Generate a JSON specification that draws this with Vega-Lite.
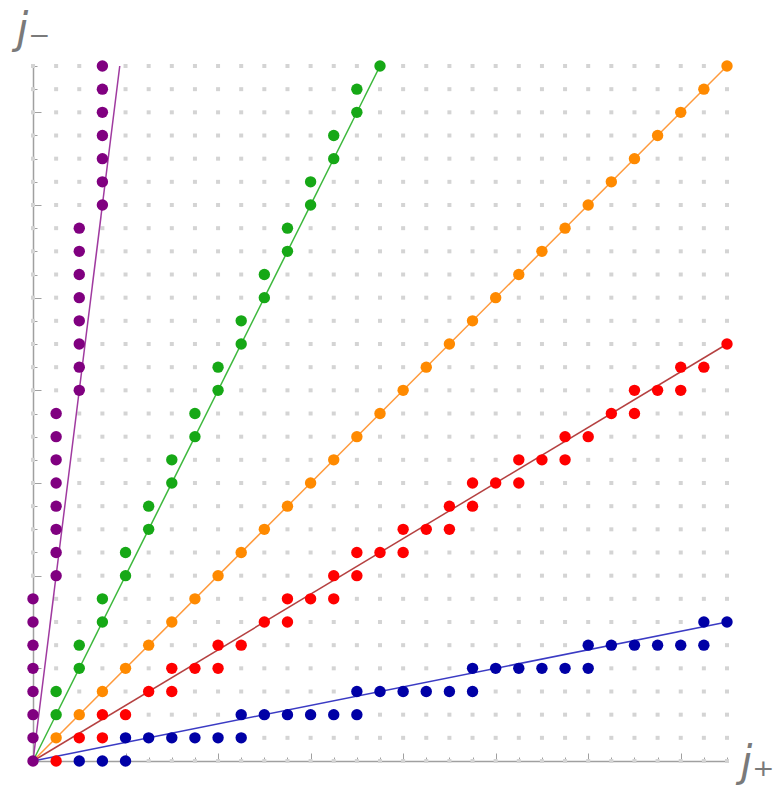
{
  "$schema": "https://vega.github.io/schema/vega-lite/v6.json",
  "width": 694,
  "height": 695,
  "autosize": {"type": "none"},
  "padding": {"left": 33, "top": 66, "right": 51, "bottom": 26},
  "background": "white",
  "config": {"view": {"stroke": null}},
  "datasets": {
    "grid": [
      {"x":0,"ys":[0,1,2,3,4,5,6,7,8,9,10,11,12,13,14,15,16,17,18,19,20,21,22,23,24,25,26,27,28,29,30]},
      {"x":1,"ys":[0,1,2,3,4,5,6,7,8,9,10,11,12,13,14,15,16,17,18,19,20,21,22,23,24,25,26,27,28,29,30]},
      {"x":2,"ys":[0,1,2,3,4,5,6,7,8,9,10,11,12,13,14,15,16,17,18,19,20,21,22,23,24,25,26,27,28,29,30]},
      {"x":3,"ys":[0,1,2,3,4,5,6,7,8,9,10,11,12,13,14,15,16,17,18,19,20,21,22,23,24,25,26,27,28,29,30]},
      {"x":4,"ys":[0,1,2,3,4,5,6,7,8,9,10,11,12,13,14,15,16,17,18,19,20,21,22,23,24,25,26,27,28,29,30]},
      {"x":5,"ys":[0,1,2,3,4,5,6,7,8,9,10,11,12,13,14,15,16,17,18,19,20,21,22,23,24,25,26,27,28,29,30]},
      {"x":6,"ys":[0,1,2,3,4,5,6,7,8,9,10,11,12,13,14,15,16,17,18,19,20,21,22,23,24,25,26,27,28,29,30]},
      {"x":7,"ys":[0,1,2,3,4,5,6,7,8,9,10,11,12,13,14,15,16,17,18,19,20,21,22,23,24,25,26,27,28,29,30]},
      {"x":8,"ys":[0,1,2,3,4,5,6,7,8,9,10,11,12,13,14,15,16,17,18,19,20,21,22,23,24,25,26,27,28,29,30]},
      {"x":9,"ys":[0,1,2,3,4,5,6,7,8,9,10,11,12,13,14,15,16,17,18,19,20,21,22,23,24,25,26,27,28,29,30]},
      {"x":10,"ys":[0,1,2,3,4,5,6,7,8,9,10,11,12,13,14,15,16,17,18,19,20,21,22,23,24,25,26,27,28,29,30]},
      {"x":11,"ys":[0,1,2,3,4,5,6,7,8,9,10,11,12,13,14,15,16,17,18,19,20,21,22,23,24,25,26,27,28,29,30]},
      {"x":12,"ys":[0,1,2,3,4,5,6,7,8,9,10,11,12,13,14,15,16,17,18,19,20,21,22,23,24,25,26,27,28,29,30]},
      {"x":13,"ys":[0,1,2,3,4,5,6,7,8,9,10,11,12,13,14,15,16,17,18,19,20,21,22,23,24,25,26,27,28,29,30]},
      {"x":14,"ys":[0,1,2,3,4,5,6,7,8,9,10,11,12,13,14,15,16,17,18,19,20,21,22,23,24,25,26,27,28,29,30]},
      {"x":15,"ys":[0,1,2,3,4,5,6,7,8,9,10,11,12,13,14,15,16,17,18,19,20,21,22,23,24,25,26,27,28,29,30]},
      {"x":16,"ys":[0,1,2,3,4,5,6,7,8,9,10,11,12,13,14,15,16,17,18,19,20,21,22,23,24,25,26,27,28,29,30]},
      {"x":17,"ys":[0,1,2,3,4,5,6,7,8,9,10,11,12,13,14,15,16,17,18,19,20,21,22,23,24,25,26,27,28,29,30]},
      {"x":18,"ys":[0,1,2,3,4,5,6,7,8,9,10,11,12,13,14,15,16,17,18,19,20,21,22,23,24,25,26,27,28,29,30]},
      {"x":19,"ys":[0,1,2,3,4,5,6,7,8,9,10,11,12,13,14,15,16,17,18,19,20,21,22,23,24,25,26,27,28,29,30]},
      {"x":20,"ys":[0,1,2,3,4,5,6,7,8,9,10,11,12,13,14,15,16,17,18,19,20,21,22,23,24,25,26,27,28,29,30]},
      {"x":21,"ys":[0,1,2,3,4,5,6,7,8,9,10,11,12,13,14,15,16,17,18,19,20,21,22,23,24,25,26,27,28,29,30]},
      {"x":22,"ys":[0,1,2,3,4,5,6,7,8,9,10,11,12,13,14,15,16,17,18,19,20,21,22,23,24,25,26,27,28,29,30]},
      {"x":23,"ys":[0,1,2,3,4,5,6,7,8,9,10,11,12,13,14,15,16,17,18,19,20,21,22,23,24,25,26,27,28,29,30]},
      {"x":24,"ys":[0,1,2,3,4,5,6,7,8,9,10,11,12,13,14,15,16,17,18,19,20,21,22,23,24,25,26,27,28,29,30]},
      {"x":25,"ys":[0,1,2,3,4,5,6,7,8,9,10,11,12,13,14,15,16,17,18,19,20,21,22,23,24,25,26,27,28,29,30]},
      {"x":26,"ys":[0,1,2,3,4,5,6,7,8,9,10,11,12,13,14,15,16,17,18,19,20,21,22,23,24,25,26,27,28,29,30]},
      {"x":27,"ys":[0,1,2,3,4,5,6,7,8,9,10,11,12,13,14,15,16,17,18,19,20,21,22,23,24,25,26,27,28,29,30]},
      {"x":28,"ys":[0,1,2,3,4,5,6,7,8,9,10,11,12,13,14,15,16,17,18,19,20,21,22,23,24,25,26,27,28,29,30]},
      {"x":29,"ys":[0,1,2,3,4,5,6,7,8,9,10,11,12,13,14,15,16,17,18,19,20,21,22,23,24,25,26,27,28,29,30]},
      {"x":30,"ys":[0,1,2,3,4,5,6,7,8,9,10,11,12,13,14,15,16,17,18,19,20,21,22,23,24,25,26,27,28,29,30]}
    ],
    "lines": [
      {"s":"B","x":0,"y":0},{"s":"B","x":30,"y":6},
      {"s":"R","x":0,"y":0},{"s":"R","x":30,"y":18},
      {"s":"O","x":0,"y":0},{"s":"O","x":30,"y":30},
      {"s":"G","x":0,"y":0},{"s":"G","x":15,"y":30},
      {"s":"P","x":0,"y":0},{"s":"P","x":3.75,"y":30}
    ],
    "pts": [
      {"s":"B","x":2,"y":0},{"s":"B","x":3,"y":0},{"s":"B","x":4,"y":0},
      {"s":"B","x":4,"y":1},{"s":"B","x":5,"y":1},{"s":"B","x":6,"y":1},{"s":"B","x":7,"y":1},{"s":"B","x":8,"y":1},{"s":"B","x":9,"y":1},
      {"s":"B","x":9,"y":2},{"s":"B","x":10,"y":2},{"s":"B","x":11,"y":2},{"s":"B","x":12,"y":2},{"s":"B","x":13,"y":2},{"s":"B","x":14,"y":2},
      {"s":"B","x":14,"y":3},{"s":"B","x":15,"y":3},{"s":"B","x":16,"y":3},{"s":"B","x":17,"y":3},{"s":"B","x":18,"y":3},{"s":"B","x":19,"y":3},
      {"s":"B","x":19,"y":4},{"s":"B","x":20,"y":4},{"s":"B","x":21,"y":4},{"s":"B","x":22,"y":4},{"s":"B","x":23,"y":4},{"s":"B","x":24,"y":4},
      {"s":"B","x":24,"y":5},{"s":"B","x":25,"y":5},{"s":"B","x":26,"y":5},{"s":"B","x":27,"y":5},{"s":"B","x":28,"y":5},{"s":"B","x":29,"y":5},
      {"s":"B","x":29,"y":6},{"s":"B","x":30,"y":6},
      {"s":"R","x":1,"y":0},
      {"s":"R","x":2,"y":1},{"s":"R","x":3,"y":1},
      {"s":"R","x":3,"y":2},{"s":"R","x":4,"y":2},
      {"s":"R","x":5,"y":3},{"s":"R","x":6,"y":3},
      {"s":"R","x":6,"y":4},{"s":"R","x":7,"y":4},{"s":"R","x":8,"y":4},
      {"s":"R","x":8,"y":5},{"s":"R","x":9,"y":5},
      {"s":"R","x":10,"y":6},{"s":"R","x":11,"y":6},
      {"s":"R","x":11,"y":7},{"s":"R","x":12,"y":7},{"s":"R","x":13,"y":7},
      {"s":"R","x":13,"y":8},{"s":"R","x":14,"y":8},
      {"s":"R","x":14,"y":9},{"s":"R","x":15,"y":9},{"s":"R","x":16,"y":9},
      {"s":"R","x":16,"y":10},{"s":"R","x":17,"y":10},{"s":"R","x":18,"y":10},
      {"s":"R","x":18,"y":11},{"s":"R","x":19,"y":11},
      {"s":"R","x":19,"y":12},{"s":"R","x":20,"y":12},{"s":"R","x":21,"y":12},
      {"s":"R","x":21,"y":13},{"s":"R","x":22,"y":13},{"s":"R","x":23,"y":13},
      {"s":"R","x":23,"y":14},{"s":"R","x":24,"y":14},
      {"s":"R","x":25,"y":15},{"s":"R","x":26,"y":15},
      {"s":"R","x":26,"y":16},{"s":"R","x":27,"y":16},{"s":"R","x":28,"y":16},
      {"s":"R","x":28,"y":17},{"s":"R","x":29,"y":17},
      {"s":"R","x":30,"y":18},
      {"s":"O","x":1,"y":1},{"s":"O","x":2,"y":2},{"s":"O","x":3,"y":3},{"s":"O","x":4,"y":4},{"s":"O","x":5,"y":5},
      {"s":"O","x":6,"y":6},{"s":"O","x":7,"y":7},{"s":"O","x":8,"y":8},{"s":"O","x":9,"y":9},{"s":"O","x":10,"y":10},
      {"s":"O","x":11,"y":11},{"s":"O","x":12,"y":12},{"s":"O","x":13,"y":13},{"s":"O","x":14,"y":14},{"s":"O","x":15,"y":15},
      {"s":"O","x":16,"y":16},{"s":"O","x":17,"y":17},{"s":"O","x":18,"y":18},{"s":"O","x":19,"y":19},{"s":"O","x":20,"y":20},
      {"s":"O","x":21,"y":21},{"s":"O","x":22,"y":22},{"s":"O","x":23,"y":23},{"s":"O","x":24,"y":24},{"s":"O","x":25,"y":25},
      {"s":"O","x":26,"y":26},{"s":"O","x":27,"y":27},{"s":"O","x":28,"y":28},{"s":"O","x":29,"y":29},{"s":"O","x":30,"y":30},
      {"s":"G","x":1,"y":2},{"s":"G","x":1,"y":3},{"s":"G","x":2,"y":4},{"s":"G","x":2,"y":5},{"s":"G","x":3,"y":6},{"s":"G","x":3,"y":7},
      {"s":"G","x":4,"y":8},{"s":"G","x":4,"y":9},{"s":"G","x":5,"y":10},{"s":"G","x":5,"y":11},{"s":"G","x":6,"y":12},{"s":"G","x":6,"y":13},
      {"s":"G","x":7,"y":14},{"s":"G","x":7,"y":15},{"s":"G","x":8,"y":16},{"s":"G","x":8,"y":17},{"s":"G","x":9,"y":18},{"s":"G","x":9,"y":19},
      {"s":"G","x":10,"y":20},{"s":"G","x":10,"y":21},{"s":"G","x":11,"y":22},{"s":"G","x":11,"y":23},{"s":"G","x":12,"y":24},{"s":"G","x":12,"y":25},
      {"s":"G","x":13,"y":26},{"s":"G","x":13,"y":27},{"s":"G","x":14,"y":28},{"s":"G","x":14,"y":29},{"s":"G","x":15,"y":30},
      {"s":"P","x":0,"y":1},{"s":"P","x":0,"y":2},{"s":"P","x":0,"y":3},{"s":"P","x":0,"y":4},{"s":"P","x":0,"y":5},{"s":"P","x":0,"y":6},{"s":"P","x":0,"y":7},
      {"s":"P","x":1,"y":8},{"s":"P","x":1,"y":9},{"s":"P","x":1,"y":10},{"s":"P","x":1,"y":11},{"s":"P","x":1,"y":12},{"s":"P","x":1,"y":13},{"s":"P","x":1,"y":14},{"s":"P","x":1,"y":15},
      {"s":"P","x":2,"y":16},{"s":"P","x":2,"y":17},{"s":"P","x":2,"y":18},{"s":"P","x":2,"y":19},{"s":"P","x":2,"y":20},{"s":"P","x":2,"y":21},{"s":"P","x":2,"y":22},{"s":"P","x":2,"y":23},
      {"s":"P","x":3,"y":24},{"s":"P","x":3,"y":25},{"s":"P","x":3,"y":26},{"s":"P","x":3,"y":27},{"s":"P","x":3,"y":28},{"s":"P","x":3,"y":29},{"s":"P","x":3,"y":30},
      {"s":"P","x":0,"y":0}
    ]
  },
  "resolve": {"scale": {"color": "independent"}},
  "encoding": {
    "x": {
      "field": "x", "type": "quantitative",
      "scale": {"domain": [0, 30], "nice": false, "zero": false},
      "axis": {
        "title": "j₊",
        "titleFont": "DejaVu Sans", "titleFontSize": 42, "titleFontStyle": "italic", "titleFontWeight": "normal",
        "titleColor": "#7a7a7a", "titleAngle": 0, "titleAlign": "left", "titleBaseline": "alphabetic",
        "titleX": 707, "titleY": 14,
        "values": [0,1,2,3,4,5,6,7,8,9,10,11,12,13,14,15,16,17,18,19,20,21,22,23,24,25,26,27,28,29,30],
        "labels": false, "grid": false,
        "domainColor": "#a0a0a0", "domainWidth": 1.5,
        "tickColor": "#a0a0a0", "tickWidth": 1,
        "tickSize": {"condition": {"test": "datum.value % 4 === 0", "value": -8}, "value": -4}
      }
    },
    "y": {
      "field": "y", "type": "quantitative",
      "scale": {"domain": [0, 30], "nice": false, "zero": false},
      "axis": {
        "title": "j₋",
        "titleFont": "DejaVu Sans", "titleFontSize": 42, "titleFontStyle": "italic", "titleFontWeight": "normal",
        "titleColor": "#7a7a7a", "titleAngle": 0, "titleAlign": "left", "titleBaseline": "alphabetic",
        "titleX": -17, "titleY": -24,
        "values": [0,1,2,3,4,5,6,7,8,9,10,11,12,13,14,15,16,17,18,19,20,21,22,23,24,25,26,27,28,29,30],
        "labels": false, "grid": false,
        "domainColor": "#a0a0a0", "domainWidth": 1.5,
        "tickColor": "#a0a0a0", "tickWidth": 1,
        "tickSize": {"condition": {"test": "datum.value % 4 === 0", "value": -8}, "value": -4}
      }
    }
  },
  "layer": [
    {
      "data": {"name": "grid"},
      "transform": [{"flatten": ["ys"], "as": ["y"]}],
      "mark": {"type": "square", "size": 16, "color": "#d4d4d4", "opacity": 1}
    },
    {
      "data": {"name": "lines"},
      "mark": {"type": "line", "strokeWidth": 1.5},
      "encoding": {
        "color": {
          "field": "s", "type": "nominal", "legend": null,
          "scale": {"domain": ["B","R","O","G","P"], "range": ["#3b3bc4","#b54141","#ff9a3c","#3cb83c","#a03aa0"]}
        }
      }
    },
    {
      "data": {"name": "pts"},
      "mark": {"type": "circle", "size": 130, "opacity": 1},
      "encoding": {
        "color": {
          "field": "s", "type": "nominal", "legend": null,
          "scale": {"domain": ["B","R","O","G","P"], "range": ["#0000a6","#ff0000","#ff8a00","#16a816","#800080"]}
        }
      }
    }
  ]
}
